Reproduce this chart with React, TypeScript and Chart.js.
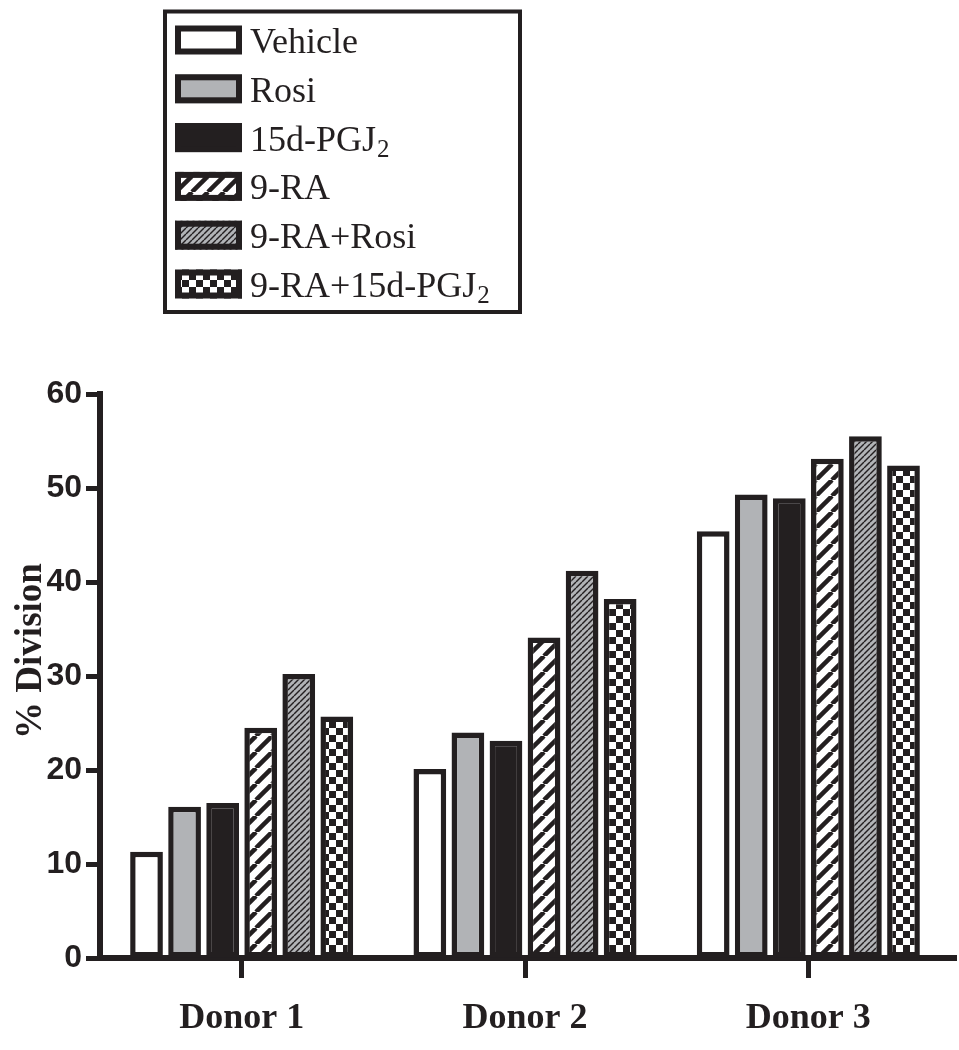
import React, { useEffect, useRef } from 'react';
import { Chart, registerables } from 'chart.js';

Chart.register(...registerables);

const categories = ['Donor 1', 'Donor 2', 'Donor 3'];
const seriesNames = ['Vehicle', 'Rosi', '15d-PGJ2', '9-RA', '9-RA+Rosi', '9-RA+15d-PGJ2'];
const vehicle = [11.3, 20.1, 45.4];
const rosi = [16.1, 24.0, 49.3];
const pgj2 = [16.5, 23.1, 48.9];
const ra9 = [24.5, 34.1, 53.1];
const ra9Rosi = [30.2, 41.2, 55.5];
const ra9Pgj2 = [25.7, 38.2, 52.4];
const yTicks = [0, 10, 20, 30, 40, 50, 60];
const yTitle = '% Division';

const INK = '#231f20';
const GRAY = '#b1b3b6';

function stripes(ctx: CanvasRenderingContext2D, bg: string, fg: string, size: number, lw: number) {
  const c = document.createElement('canvas');
  c.width = size;
  c.height = size;
  const g = c.getContext('2d')!;
  g.fillStyle = bg;
  g.fillRect(0, 0, size, size);
  g.strokeStyle = fg;
  g.lineWidth = lw;
  for (const k of [-1, 0, 1]) {
    g.beginPath();
    g.moveTo(k * size, size);
    g.lineTo(k * size + size, 0);
    g.stroke();
  }
  return ctx.createPattern(c, 'repeat')!;
}

function checker(ctx: CanvasRenderingContext2D, s: number) {
  const c = document.createElement('canvas');
  c.width = 2 * s;
  c.height = 2 * s;
  const g = c.getContext('2d')!;
  g.fillStyle = '#ffffff';
  g.fillRect(0, 0, 2 * s, 2 * s);
  g.fillStyle = INK;
  g.fillRect(0, 0, s, s);
  g.fillRect(s, s, s, s);
  return ctx.createPattern(c, 'repeat')!;
}

const SERIF = "'Liberation Serif', 'Times New Roman', serif";
const SANS = "'Liberation Sans', Arial, sans-serif";

const boxLegend = {
  id: 'boxLegend',
  afterDraw(chart: any) {
    const ctx: CanvasRenderingContext2D = chart.ctx;
    ctx.save();
    // extend x axis line to the right
    const area = chart.chartArea;
    ctx.fillStyle = INK;
    ctx.fillRect(area.right - 2, area.bottom - 3, 959 - area.right, 6);

    // legend frame
    ctx.lineWidth = 4;
    ctx.strokeStyle = INK;
    ctx.strokeRect(165, 11.5, 355, 300.5);
    chart.data.datasets.forEach((ds: any, i: number) => {
      const cy = 40 + i * 48.8;
      const x0 = 175, w = 67, h = 29;
      ctx.fillStyle = ds.backgroundColor;
      ctx.fillRect(x0, cy - h / 2, w, h);
      ctx.lineWidth = 6;
      ctx.strokeStyle = INK;
      ctx.strokeRect(x0 + 3, cy - h / 2 + 3, w - 6, h - 6);
      const label: string = ds.label;
      const hasSub = /PGJ2$/.test(label);
      const main = hasSub ? label.slice(0, -1) : label;
      ctx.fillStyle = INK;
      ctx.textAlign = 'left';
      ctx.textBaseline = 'alphabetic';
      ctx.font = `36px ${SERIF}`;
      const tx = 250;
      const by = cy + 13;
      ctx.fillText(main, tx, by);
      if (hasSub) {
        const mw = ctx.measureText(main).width;
        ctx.font = `25px ${SERIF}`;
        ctx.fillText('2', tx + mw + 1, by + 6);
      }
    });

    // y axis title
    ctx.translate(31, 651);
    ctx.rotate(-Math.PI / 2);
    ctx.font = `bold 37px ${SERIF}`;
    ctx.fillStyle = INK;
    ctx.textAlign = 'center';
    ctx.textBaseline = 'middle';
    ctx.fillText(yTitle, 0, 0);
    ctx.restore();
  },
};

export default function App() {
  const ref = useRef<HTMLCanvasElement>(null);
  useEffect(() => {
    const canvas = ref.current!;
    const ctx = canvas.getContext('2d')!;
    const fills = [
      '#ffffff',
      GRAY,
      INK,
      stripes(ctx, '#ffffff', INK, 16, 4.5),
      stripes(ctx, GRAY, INK, 6, 1.4),
      checker(ctx, 7),
    ];
    const values = [vehicle, rosi, pgj2, ra9, ra9Rosi, ra9Pgj2];
    const chart = new Chart(canvas, {
      type: 'bar',
      data: {
        labels: categories,
        datasets: values.map((v, i) => ({
          label: seriesNames[i],
          data: v,
          backgroundColor: fills[i] as any,
          borderColor: INK,
          borderWidth: 5.5,
          borderSkipped: false,
          categoryPercentage: 0.806,
          barPercentage: 0.86,
        })),
      },
      plugins: [boxLegend],
      options: {
        responsive: false,
        animation: false,
        layout: { padding: { top: 394, right: 9, left: 0, bottom: 0 } },
        plugins: { legend: { display: false }, tooltip: { enabled: false } },
        scales: {
          x: {
            grid: {
              offset: false,
              drawOnChartArea: false,
              tickLength: 20,
              tickWidth: 5,
              tickColor: INK,
            },
            border: { display: true, width: 6, color: INK },
            ticks: {
              color: INK,
              padding: 19,
              font: { family: SERIF, size: 36, weight: 'bold' },
            },
            afterFit: (s: any) => {
              s.height = 92;
            },
          },
          y: {
            min: 0,
            max: 60,
            afterBuildTicks: (s: any) => {
              s.ticks = yTicks.map((v) => ({ value: v }));
            },
            grid: {
              drawOnChartArea: false,
              tickLength: 14,
              tickWidth: 5,
              tickColor: INK,
            },
            border: { display: true, width: 6, color: INK },
            ticks: {
              color: INK,
              padding: 4,
              font: { family: SANS, size: 32, weight: 'bold' },
            },
            afterFit: (s: any) => {
              s.width = 100;
            },
          },
        },
      },
    });
    return () => chart.destroy();
  }, []);
  return (
    <div style={{ position: 'absolute', left: 0, top: 0, width: 959, height: 1050, background: '#fff' }}>
      <canvas ref={ref} width={959} height={1050} style={{ display: 'block' }} />
    </div>
  );
}
